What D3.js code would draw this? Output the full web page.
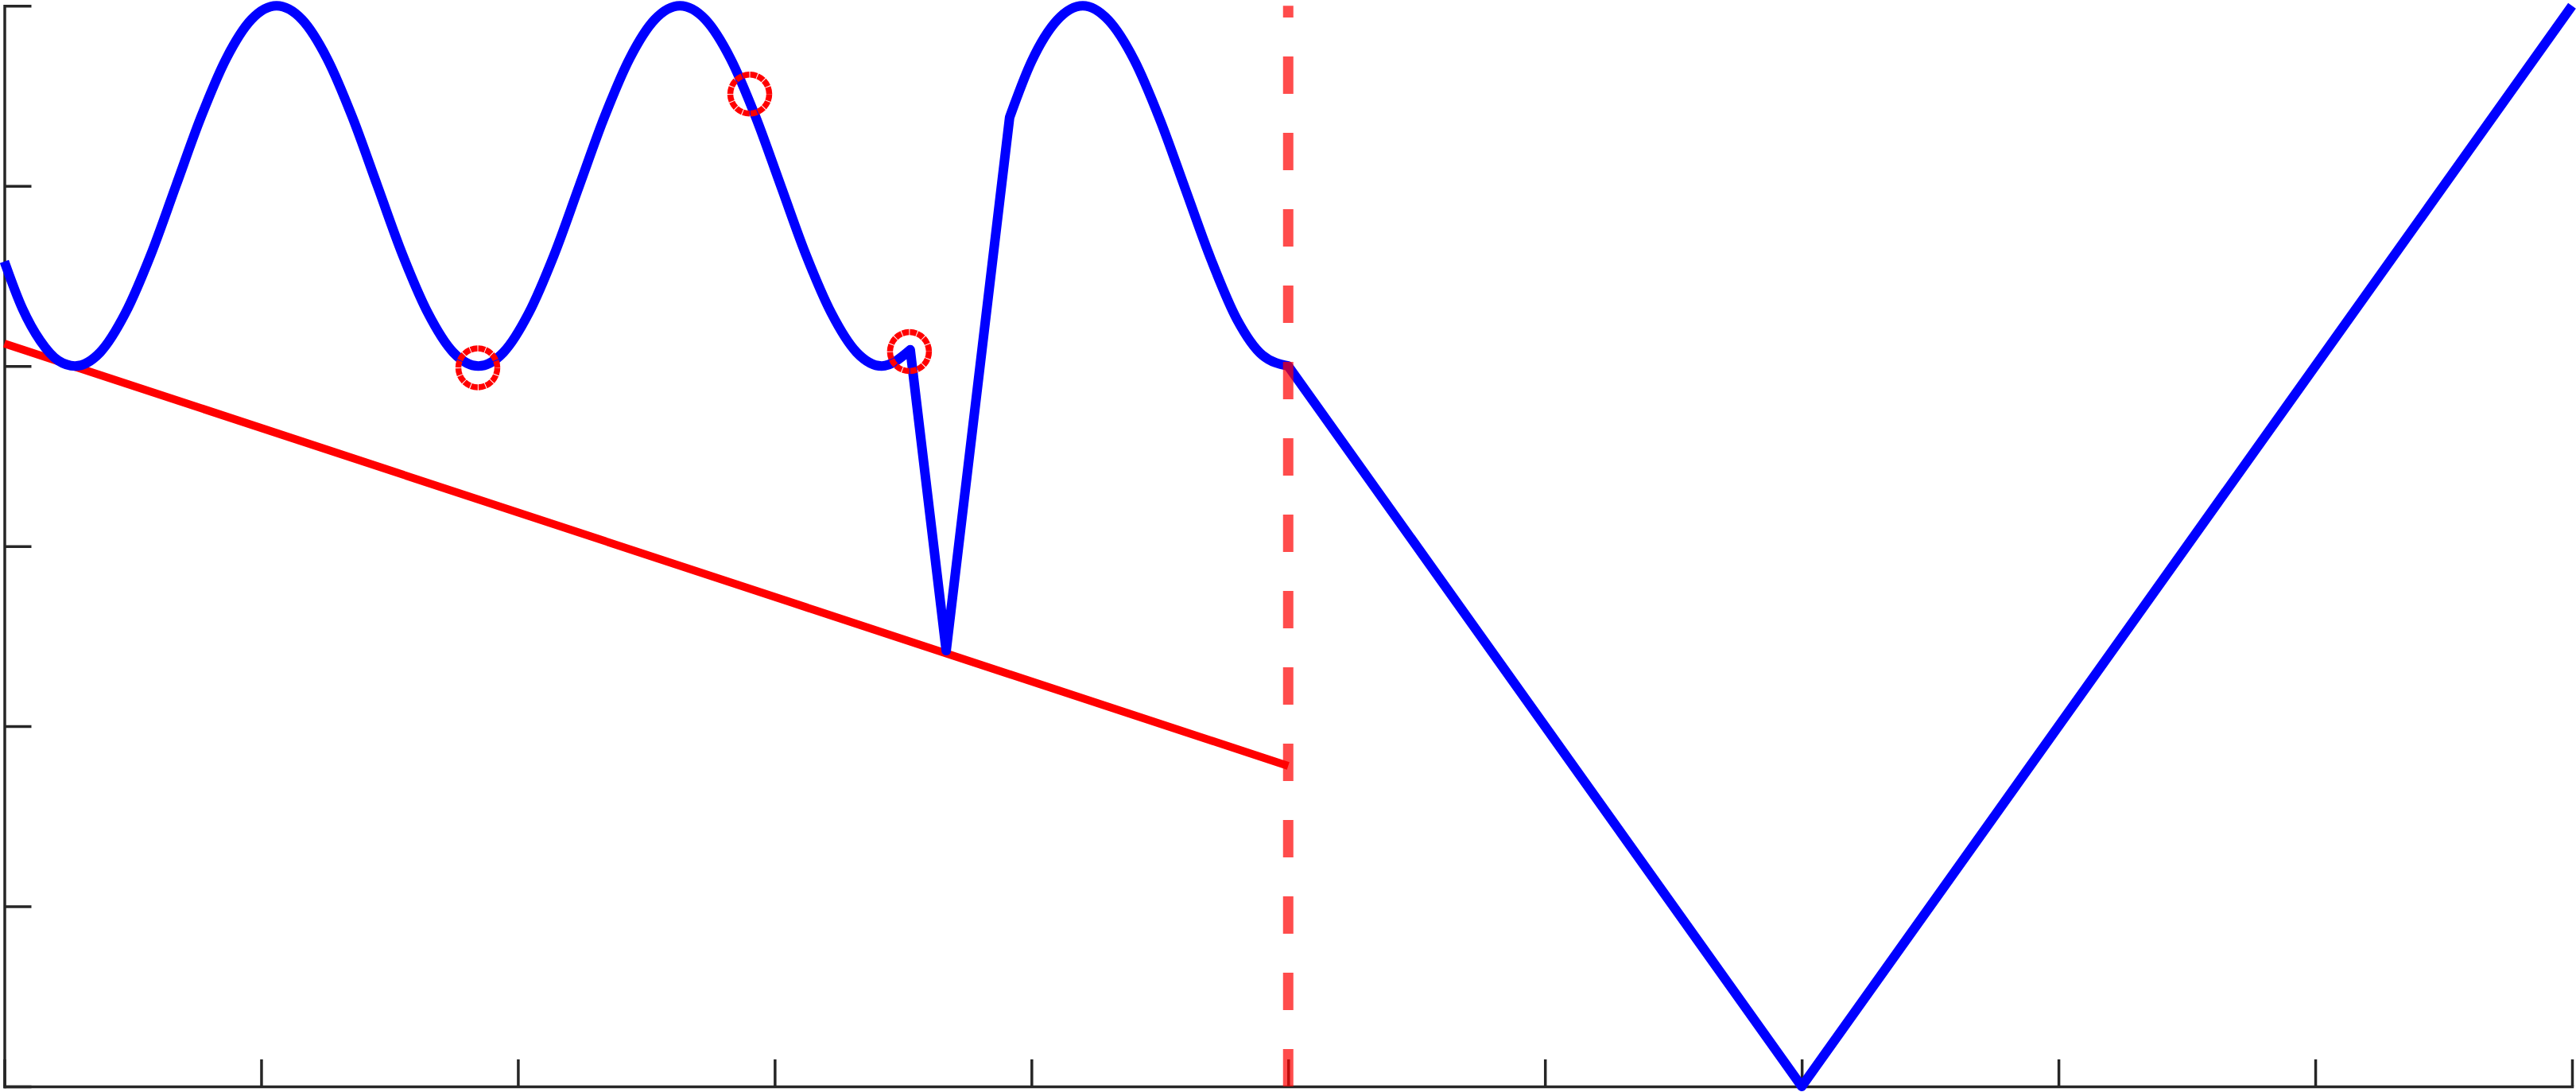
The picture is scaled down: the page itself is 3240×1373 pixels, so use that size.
<!DOCTYPE html>
<html>
<head>
<meta charset="utf-8">
<script src="https://cdn.jsdelivr.net/npm/d3@7"></script>
<style>
  body { margin: 0; background: #fff; }
  svg { display: block; }
  .axis path, .axis line { stroke: #262626; stroke-width: 3.5px; }
</style>
</head>
<body>
<div id="chart"></div>
<script>
// values (data units: x 0..10, y 0..6)
var xTicks = d3.range(0, 11);
var yTicks = d3.range(0, 7);

// wavy part, left of the kink
var waveA = [[0, 4.58], [0.07, 4.32], [0.14, 4.14], [0.21, 4.03], [0.275, 4.0], [0.373, 4.076],
             [0.471, 4.293], [0.57, 4.617], [0.668, 5.0], [0.766, 5.383], [0.864, 5.707], [0.962, 5.924],
             [1.06, 6.0], [1.159, 5.924], [1.257, 5.707], [1.355, 5.383], [1.453, 5.0], [1.551, 4.617],
             [1.65, 4.293], [1.748, 4.076], [1.846, 4.0], [1.944, 4.076], [2.042, 4.293], [2.141, 4.617],
             [2.239, 5.0], [2.337, 5.383], [2.435, 5.707], [2.533, 5.924], [2.631, 6.0], [2.73, 5.924],
             [2.828, 5.707], [2.926, 5.383], [3.024, 5.0], [3.122, 4.617], [3.221, 4.293], [3.319, 4.076],
             [3.417, 4.0], [3.528, 4.09]];
// straight spike
var spike = [[3.528, 4.09], [3.668, 2.42], [3.915, 5.38]];
// wavy part after the spike
var waveB = [[3.915, 5.38], [4.0, 5.69], [4.1, 5.92], [4.2, 6.0], [4.3, 5.92], [4.4, 5.7],
             [4.5, 5.37], [4.6, 4.98], [4.7, 4.59], [4.8, 4.26], [4.9, 4.06], [5.0, 4.0]];
// the V on the right
var vee = [[5.0, 4.0], [7.0, 0], [10.0, 6.0]];

var redLine = [[0, 4.125], [5.0, 1.78]];
var markers = [[1.844, 3.99], [2.903, 5.51], [3.525, 4.08]];
var cutX = 5.0;

var margin = {top: 7.3, right: 5, bottom: 7, left: 5.5};
var width = 3240 - margin.left - margin.right,
    height = 1373 - margin.top - margin.bottom;

var svg = d3.select("#chart").append("svg")
    .attr("width", 3240)
    .attr("height", 1373);

var g = svg.append("g")
    .attr("transform", "translate(" + margin.left + "," + margin.top + ")");

var x = d3.scaleLinear().domain([0, 10]).range([0, width]);
var y = d3.scaleLinear().domain([0, 6]).range([height, 0]);

g.append("g")
    .attr("class", "axis")
    .attr("transform", "translate(0," + height + ")")
    .call(d3.axisBottom(x).tickValues(xTicks).tickSize(-34).tickSizeOuter(0).tickFormat(""));

g.append("g")
    .attr("class", "axis")
    .call(d3.axisLeft(y).tickValues(yTicks).tickSize(-34).tickSizeOuter(0).tickFormat(""));

g.selectAll(".axis .domain").attr("stroke-linecap", "square");

var smooth = d3.line().x(function(d) { return x(d[0]); }).y(function(d) { return y(d[1]); })
    .curve(d3.curveMonotoneX);
var straight = d3.line().x(function(d) { return x(d[0]); }).y(function(d) { return y(d[1]); });

// red sloped line
g.append("path")
    .attr("d", straight(redLine))
    .attr("fill", "none")
    .attr("stroke", "#ff0000")
    .attr("stroke-width", 10);

// blue curve, glued into one path so corners get joined
var blueD = smooth(waveA)
    + straight(spike).replace(/^M/, "L")
    + smooth(waveB).replace(/^M/, "L")
    + straight(vee).replace(/^M/, "L");

g.append("path")
    .attr("d", blueD)
    .attr("fill", "none")
    .attr("stroke", "#0000ff")
    .attr("stroke-width", 12)
    .attr("stroke-linejoin", "round")
    .attr("stroke-linecap", "butt");

// circle markers
g.selectAll(".marker").data(markers)
    .enter().append("circle")
    .attr("class", "marker")
    .attr("cx", function(d) { return x(d[0]); })
    .attr("cy", function(d) { return y(d[1]); })
    .attr("r", 24.5)
    .attr("fill", "none")
    .attr("stroke", "#ff0000")
    .attr("stroke-width", 7.5)
    .attr("stroke-dasharray", "8.6,1");

// dashed vertical line, drawn bottom up
g.append("line")
    .attr("x1", x(cutX)).attr("x2", x(cutX))
    .attr("y1", y(0)).attr("y2", y(6))
    .attr("stroke", "#ff0000")
    .attr("stroke-opacity", 0.7)
    .attr("stroke-width", 13)
    .attr("stroke-dasharray", "47,49");
</script>
</body>
</html>
